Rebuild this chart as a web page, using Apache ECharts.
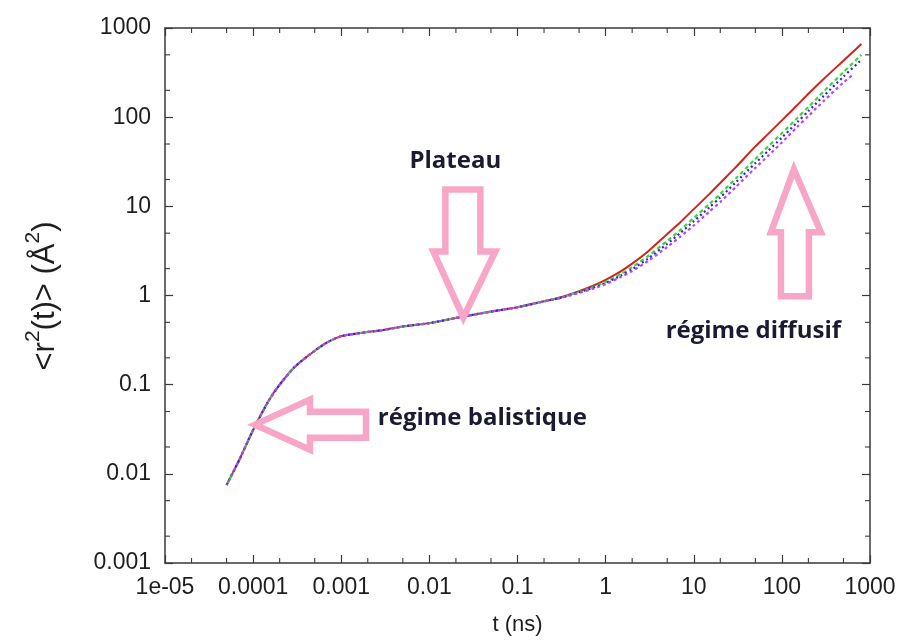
<!DOCTYPE html>
<html>
<head>
<meta charset="utf-8">
<script src="https://cdn.jsdelivr.net/npm/echarts@6/dist/echarts.min.js"></script>
<style>
  html, body { margin: 0; padding: 0; background: #fff; }
  #chart { width: 902px; height: 641px; }
</style>
</head>
<body>
<div id="chart"></div>
<script>
// Mean squared displacement <r²(t)> versus time, log-log
const xTickLabels = ['1e-05', '0.0001', '0.001', '0.01', '0.1', '1', '10', '100', '1000'];
const yTickLabels = ['0.001', '0.01', '0.1', '1', '10', '100', '1000'];

// shared short-time part (ballistic regime + plateau)
const tEarly = [5e-5, 7e-5, 1e-4, 1.5e-4, 2e-4, 3e-4, 5e-4, 7e-4, 1e-3, 1.5e-3, 2e-3, 3e-3, 5e-3, 0.01, 0.02, 0.05, 0.1, 0.2];
const msdEarly = [0.0075, 0.0145, 0.031, 0.066, 0.10, 0.16, 0.24, 0.30, 0.35, 0.375, 0.39, 0.41, 0.45, 0.49, 0.56, 0.66, 0.74, 0.86];

// long-time part, one list per curve
const tLate = [0.3, 0.5, 0.7, 1, 1.5, 2, 3, 5, 7, 10, 15, 20, 30, 50, 70, 100, 150, 200, 300, 500, 800];
const msdRed    = [0.95, 1.12, 1.27, 1.50, 1.88, 2.28, 3.10, 4.9, 6.6, 9.3, 13.7, 18.3, 27.5, 47, 65, 92, 137, 183, 270, 430, 660];
const msdGreen  = [0.94, 1.10, 1.23, 1.42, 1.75, 2.08, 2.75, 4.1, 5.4, 7.4, 10.6, 13.8, 20.5, 34, 47, 66, 98, 130, 195, 320, 500];
const msdBlue   = [0.935, 1.09, 1.21, 1.38, 1.68, 1.97, 2.58, 3.8, 5.0, 6.8, 9.7, 12.6, 18.6, 30.5, 42, 59, 88, 117, 174, 285, 440];
const tLatePurple = [0.3, 0.5, 0.7, 1, 1.5, 2, 3, 5, 7, 10, 15, 20, 30, 50, 70, 100, 150, 200, 300, 500, 640];
const msdPurple = [0.93, 1.07, 1.18, 1.34, 1.62, 1.88, 2.42, 3.5, 4.55, 6.1, 8.7, 11.2, 16.5, 27, 37, 52, 78, 103, 153, 245, 300];

// minor tick multipliers within each decade
const minorMult = [2, 5];

function pairs(ts, vs) { return ts.map((t, i) => [t, vs[i]]); }
function curve(tl, vl) { return pairs(tEarly, msdEarly).concat(pairs(tl, vl)); }

const xMinor = [];
for (let e = -5; e < 3; e++) minorMult.forEach(m => xMinor.push(m * Math.pow(10, e)));
const yMinor = [];
for (let e = -3; e < 3; e++) minorMult.forEach(m => yMinor.push(m * Math.pow(10, e)));

function decadeLabel(list, base) {
  return function (v) {
    const i = Math.round(Math.log10(v)) - base;
    return list[i] !== undefined ? list[i] : '';
  };
}

const frameColor = '#3a3a3a';
const labelFont = { color: '#1e1e1e', fontFamily: 'Liberation Sans', fontSize: 23 };

const chart = echarts.init(document.getElementById('chart'), null, { renderer: 'canvas' });

const axisCommon = {
  type: 'log', logBase: 10,
  axisLine: { show: true, lineStyle: { color: frameColor, width: 1.5 } },
  axisTick: { show: true, inside: true, length: 8, lineStyle: { color: frameColor, width: 1.2 } },
  splitLine: { show: false },
  minorTick: { show: false }
};

const option = {
  backgroundColor: '#ffffff',
  animation: false,
  grid: { left: 165, right: 32, top: 28, bottom: 78, containLabel: false },
  xAxis: [
    Object.assign({}, axisCommon, {
      min: 1e-5, max: 1000, interval: 1, position: 'bottom',
      axisLabel: Object.assign({ margin: 13, formatter: decadeLabel(xTickLabels, -5) }, labelFont),
      name: 't (ns)', nameLocation: 'middle', nameGap: 51,
      nameTextStyle: { color: '#1e1e1e', fontFamily: 'Liberation Sans', fontSize: 22 }
    }),
    Object.assign({}, axisCommon, {
      min: 1e-5, max: 1000, interval: 1, position: 'top',
      axisLabel: { show: false }
    })
  ],
  yAxis: [
    Object.assign({}, axisCommon, {
      min: 0.001, max: 1000, interval: 1, position: 'left',
      axisLabel: Object.assign({ margin: 14, formatter: decadeLabel(yTickLabels, -3) }, labelFont)
    }),
    Object.assign({}, axisCommon, {
      min: 0.001, max: 1000, interval: 1, position: 'right',
      axisLabel: { show: false }
    })
  ],
  series: [
    {
      type: 'custom', name: 'xMinorTicks', silent: true, z: 1,
      data: xMinor.map(v => [v]),
      renderItem: function (params, api) {
        const v = api.value(0);
        const b = api.coord([v, 0.001]);
        const t = api.coord([v, 1000]);
        const st = { stroke: frameColor, lineWidth: 1.1 };
        return { type: 'group', children: [
          { type: 'line', shape: { x1: b[0], y1: b[1], x2: b[0], y2: b[1] - 5 }, style: st },
          { type: 'line', shape: { x1: t[0], y1: t[1], x2: t[0], y2: t[1] + 5 }, style: st }
        ] };
      }
    },
    {
      type: 'custom', name: 'yMinorTicks', silent: true, z: 1,
      data: yMinor.map(v => [1e-5, v]),
      renderItem: function (params, api) {
        const v = api.value(1);
        const l = api.coord([1e-5, v]);
        const r = api.coord([1000, v]);
        const st = { stroke: frameColor, lineWidth: 1.1 };
        return { type: 'group', children: [
          { type: 'line', shape: { x1: l[0], y1: l[1], x2: l[0] + 5, y2: l[1] }, style: st },
          { type: 'line', shape: { x1: r[0], y1: r[1], x2: r[0] - 5, y2: r[1] }, style: st }
        ] };
      }
    },
    {
      type: 'line', name: 'red', data: curve(tLate, msdRed), smooth: 0.25, showSymbol: false,
      lineStyle: { color: '#cf2420', width: 2 }, z: 3
    },
    {
      type: 'line', name: 'green', data: curve(tLate, msdGreen), smooth: 0.25, showSymbol: false,
      lineStyle: { color: '#3fd43f', width: 2.2, type: [4, 3] }, z: 4
    },
    {
      type: 'line', name: 'blue', data: curve(tLate, msdBlue), smooth: 0.25, showSymbol: false,
      lineStyle: { color: '#2a2acc', width: 2.2, type: [2, 3] }, z: 5
    },
    {
      type: 'line', name: 'purple', data: curve(tLatePurple, msdPurple), smooth: 0.25, showSymbol: false,
      lineStyle: { color: '#bb44f0', width: 2.2, type: [3, 3], dashOffset: 2 }, z: 6
    }
  ]
};

chart.setOption(option);

// annotation arrows (outlined), anchored at data positions
const arrowPink = '#f7a6c8';
const arrows = [
  { tip: [1.05e-4, 0.0356], pts: [[0,0],[55,-25],[55,-13],[111,-13],[111,13],[55,13],[55,25]] },
  { tip: [0.0243, 0.566],  pts: [[0,0],[-30,-66],[-18,-66],[-18,-128],[17,-128],[17,-66],[32,-66]] },
  { tip: [137, 26],        pts: [[0,0],[27,63],[15,63],[15,127],[-13,127],[-13,63],[-23,63]] }
];
const notes = [
  { at: [0.0197, 32], text: 'Plateau', align: 'center' },
  { at: [0.0026, 0.0426], text: 'régime balistique', align: 'left' },
  { at: [4.8, 0.394], text: 'régime diffusif', align: 'left' }
];

const graphics = [];
arrows.forEach(a => {
  const p = chart.convertToPixel({ xAxisIndex: 0, yAxisIndex: 0 }, a.tip);
  graphics.push({
    type: 'polygon', z: 10,
    shape: { points: a.pts.map(q => [p[0] + q[0], p[1] + q[1]]) },
    style: { fill: 'none', stroke: arrowPink, lineWidth: 6.5, lineJoin: 'miter' }
  });
});
notes.forEach(n => {
  const p = chart.convertToPixel({ xAxisIndex: 0, yAxisIndex: 0 }, n.at);
  graphics.push({
    type: 'text', z: 11, x: p[0], y: p[1],
    style: {
      text: n.text, fill: '#1a1a30', font: 'bold 24px "Open Sans"',
      align: n.align, verticalAlign: 'middle'
    }
  });
});
// y-axis title with superscripts
graphics.push({
  type: 'text', z: 11, x: 42, y: 296, rotation: Math.PI / 2,
  style: {
    text: '{b|<r}{s|2}{b|(t)> (Å}{s|2}{b|)}',
    align: 'center', verticalAlign: 'middle',
    rich: {
      b: { fontFamily: 'Liberation Sans', fontSize: 31, fill: '#1e1e1e', verticalAlign: 'bottom', lineHeight: 38 },
      s: { fontFamily: 'Liberation Sans', fontSize: 21, fill: '#1e1e1e', verticalAlign: 'top', lineHeight: 38 }
    }
  }
});
chart.setOption({ graphic: graphics });
</script>
</body>
</html>
